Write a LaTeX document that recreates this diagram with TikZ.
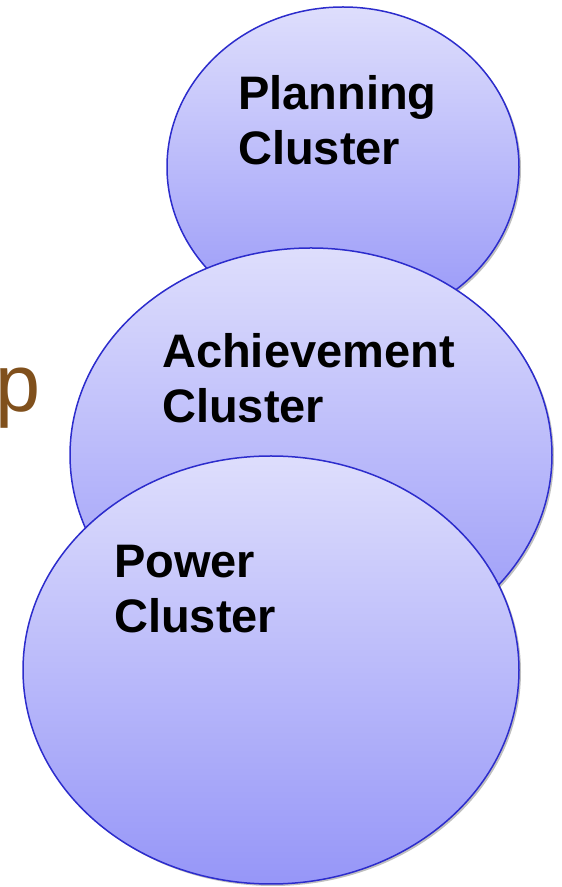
\documentclass[tikz,border=0pt]{standalone}
\usepackage{fontspec}
\setmainfont{Liberation Sans}
\usepackage{tikz}
\usetikzlibrary{shapes.geometric,shadows}

\definecolor{clustertop}{RGB}{222,222,252}
\definecolor{clusterbottom}{RGB}{150,150,248}
\definecolor{clusterline}{RGB}{44,44,204}
\definecolor{wordbrown}{RGB}{128,80,28}

\begin{document}
\begin{tikzpicture}[x=1pt,y=1pt,
	cluster/.style={ellipse, draw=clusterline, line width=1.5pt, inner sep=0pt,
		top color=clustertop, bottom color=clusterbottom,
		drop shadow={shadow xshift=2pt, shadow yshift=-2pt, opacity=0.25, fill=black}},
	lbl/.style={anchor=north west, inner sep=0pt, align=left,
		font=\bfseries\fontsize{47}{55}\selectfont}]
	\useasboundingbox (0,0) rectangle (562,887);

	\node[anchor=base west, inner sep=0pt, text=wordbrown,
		font=\fontsize{81}{90}\selectfont] (word) at (-5,475) {p};

	\node[cluster, minimum width=352pt, minimum height=320pt] (planning) at (343,720) {};
	\node[lbl] (planningtext) at (238,812) {Planning\\Cluster};

	\node[cluster, minimum width=482pt, minimum height=414pt] (achievement) at (311,432) {};
	\node[lbl] (achievementtext) at (162,554) {Achievement\\Cluster};

	\node[cluster, minimum width=496pt, minimum height=428pt] (power) at (271,217) {};
	\node[lbl] (powertext) at (114,342) {Power\\Cluster};
\end{tikzpicture}
\end{document}
